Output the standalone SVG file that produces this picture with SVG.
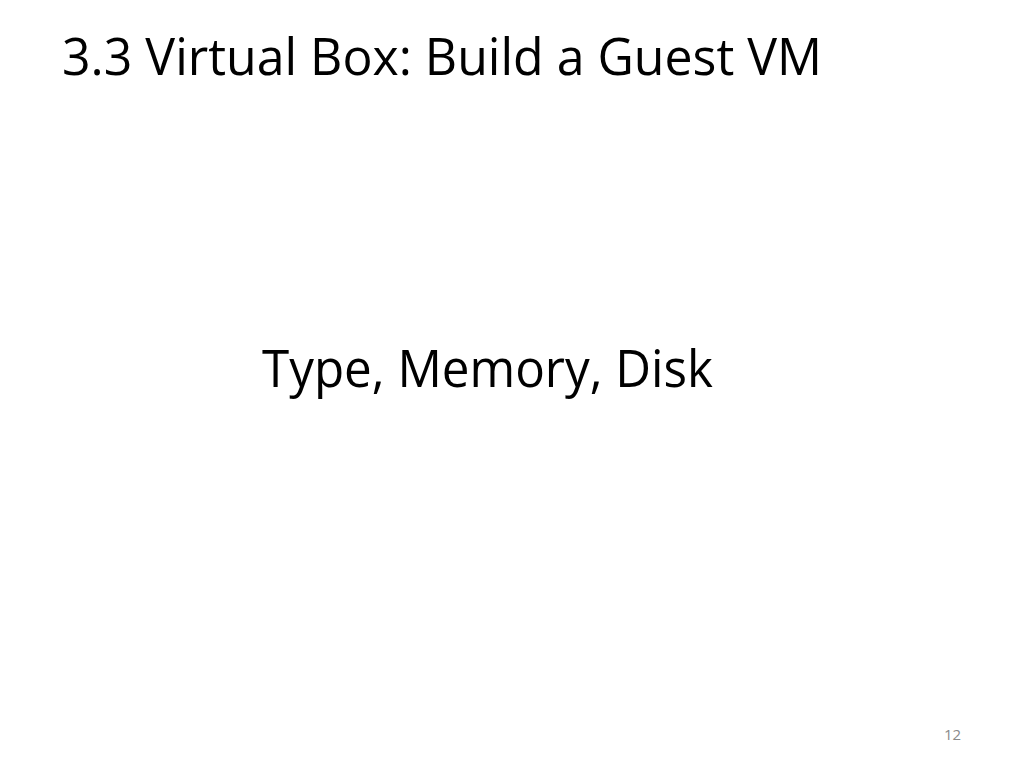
<svg xmlns="http://www.w3.org/2000/svg" width="1024" height="768" viewBox="0 0 1024 768">
<style>
.t{font-family:"Open Sans","Liberation Sans",sans-serif;fill:#000}
.n{font-family:"Open Sans","Liberation Sans",sans-serif;fill:#8a8a8a;font-size:15px}
</style>
<rect width="1024" height="768" fill="#fff"/>
<g id="title"><text class="t" x="62" y="75" font-size="52" textLength="760" lengthAdjust="spacingAndGlyphs">3.3 Virtual Box: Build a Guest VM</text></g>
<g id="body"><text class="t" x="262" y="387" font-size="51" textLength="451" lengthAdjust="spacingAndGlyphs">Type, Memory, Disk</text></g>
<g id="page"><text class="n" x="944" y="740">12</text></g>
</svg>
